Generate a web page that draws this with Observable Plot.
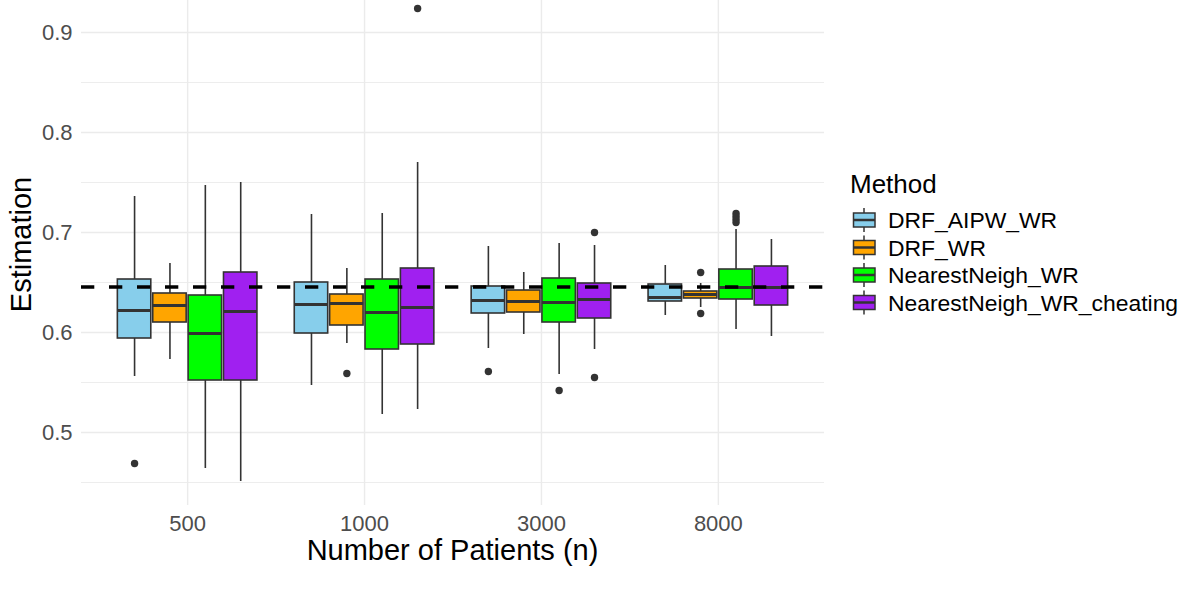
<!DOCTYPE html>
<html><head><meta charset="utf-8">
<script src="https://cdn.jsdelivr.net/npm/d3@7"></script>
<script src="https://cdn.jsdelivr.net/npm/@observablehq/plot@0.6"></script>
<style>
body{margin:0;background:#fff;}
#wrap{position:relative;width:1196px;height:609px;font-family:"Liberation Sans",Arial,Helvetica,sans-serif;}
#overlay{position:absolute;left:0;top:0;pointer-events:none;}
</style></head><body>
<div id="wrap"><div id="chart"></div><svg id="overlay" width="1196" height="609"></svg></div>
<script>
const groups = ["500", "1000", "3000", "8000"];
const methods = ["DRF_AIPW_WR", "DRF_WR", "NearestNeigh_WR", "NearestNeigh_WR_cheating"];
const colors = ["#87CEEB", "#FFA500", "#00FF00", "#A020F0"];

// rows = groups (n), columns = methods
const whiskerLow = [
  [0.556, 0.573, 0.464, 0.451],
  [0.547, 0.589, 0.518, 0.523],
  [0.584, 0.598, 0.558, 0.583],
  [0.617, 0.625, 0.603, 0.596]
];
const lowerQuartile = [
  [0.594, 0.610, 0.552, 0.552],
  [0.599, 0.607, 0.583, 0.588],
  [0.619, 0.620, 0.610, 0.614],
  [0.631, 0.634, 0.633, 0.627]
];
const medianValue = [
  [0.622, 0.627, 0.599, 0.621],
  [0.628, 0.629, 0.620, 0.625],
  [0.632, 0.631, 0.630, 0.633],
  [0.635, 0.638, 0.645, 0.645]
];
const upperQuartile = [
  [0.653, 0.639, 0.637, 0.660],
  [0.650, 0.638, 0.653, 0.664],
  [0.646, 0.642, 0.654, 0.649],
  [0.648, 0.641, 0.663, 0.666]
];
const whiskerHigh = [
  [0.736, 0.669, 0.747, 0.750],
  [0.718, 0.664, 0.719, 0.770],
  [0.686, 0.660, 0.689, 0.687],
  [0.667, 0.649, 0.703, 0.693]
];

const outlierGroup = ["500", "1000", "1000", "3000", "3000", "3000", "3000", "8000", "8000", "8000", "8000", "8000", "8000"];
const outlierMethod = ["DRF_AIPW_WR", "DRF_WR", "NearestNeigh_WR_cheating", "DRF_AIPW_WR", "NearestNeigh_WR",
  "NearestNeigh_WR_cheating", "NearestNeigh_WR_cheating", "DRF_WR", "DRF_WR",
  "NearestNeigh_WR", "NearestNeigh_WR", "NearestNeigh_WR", "NearestNeigh_WR"];
const outlierValue = [0.469, 0.559, 0.924, 0.561, 0.542, 0.700, 0.555, 0.660, 0.619, 0.719, 0.716, 0.713, 0.710];

const referenceValue = 0.6455;
const majorTicks = [0.5, 0.6, 0.7, 0.8, 0.9];
const minorTicks = [0.45, 0.55, 0.65, 0.75, 0.85];

// discrete positions as ggplot does: groups at 1..n, methods dodged within each group
const dodgeStep = 0.2, boxHalf = 0.0945;
const groupPos = g => groups.indexOf(g) + 1;
const dodgePos = (g, m) => groupPos(g) + (methods.indexOf(m) - (methods.length - 1) / 2) * dodgeStep;

const stats = groups.flatMap((g, i) => methods.map((m, j) => ({
  n: g, method: m, pos: dodgePos(g, m),
  lo: whiskerLow[i][j], q1: lowerQuartile[i][j], med: medianValue[i][j],
  q3: upperQuartile[i][j], hi: whiskerHigh[i][j]
})));
const outliers = outlierValue.map((v, k) => ({n: outlierGroup[k], method: outlierMethod[k], pos: dodgePos(outlierGroup[k], outlierMethod[k]), value: v}));
const groupTicks = groups.map(groupPos);

const font = "'Liberation Sans', Arial, Helvetica, sans-serif";
const grid = "#ebebeb";
const dark = "#333333";

const plot = Plot.plot({
  width: 1196, height: 609,
  marginLeft: 81, marginRight: 372, marginTop: 0, marginBottom: 104,
  style: {fontFamily: font, color: "#4d4d4d", background: "white"},
  x: {type: "linear", domain: [0.4, groups.length + 0.6]},
  y: {domain: [0.427, 0.932]},
  color: {domain: methods, range: colors},
  marks: [
    Plot.ruleY(minorTicks, {stroke: grid, strokeWidth: 0.9}),
    Plot.ruleY(majorTicks, {stroke: grid, strokeWidth: 1.4}),
    Plot.ruleX(groupTicks, {stroke: grid, strokeWidth: 1.4}),
    Plot.axisY(majorTicks, {tickSize: 0, tickPadding: 9, fontSize: 22, tickFormat: d3.format(".1f"), label: null}),
    Plot.axisX(groupTicks, {tickSize: 0, tickPadding: 9.5, fontSize: 22, tickFormat: d => groups[d - 1], label: null}),
    Plot.ruleX(stats, {x: "pos", y1: "lo", y2: "hi", stroke: dark, strokeWidth: 1.6}),
    Plot.rectY(stats, {x1: d => d.pos - boxHalf, x2: d => d.pos + boxHalf, y1: "q1", y2: "q3", fill: "method", stroke: dark, strokeWidth: 1.6}),
    Plot.ruleY(stats, {x1: d => d.pos - boxHalf, x2: d => d.pos + boxHalf, y: "med", stroke: dark, strokeWidth: 3}),
    Plot.dot(outliers, {x: "pos", y: "value", r: 3.7, fill: dark, stroke: null}),
    Plot.ruleY([referenceValue], {stroke: "black", strokeWidth: 3.6, strokeDasharray: "13.3,14.7"})
  ]
});
document.getElementById("chart").appendChild(plot);

// titles and legend
const ov = d3.select("#overlay").style("font-family", font);
ov.append("text").attr("x", 452.5).attr("y", 560).attr("text-anchor", "middle")
  .attr("font-size", 29).attr("fill", "black").text("Number of Patients (n)");
ov.append("text").attr("transform", "translate(31,244.5) rotate(-90)").attr("text-anchor", "middle")
  .attr("font-size", 29).attr("fill", "black").text("Estimation");
ov.append("text").attr("x", 850).attr("y", 193).attr("font-size", 26).attr("fill", "black").text("Method");
methods.forEach((m, i) => {
  const cy = 220 + i * 27.5;
  const g = ov.append("g");
  g.append("line").attr("x1", 864).attr("x2", 864).attr("y1", cy - 12).attr("y2", cy + 12)
    .attr("stroke", dark).attr("stroke-width", 1.5);
  g.append("rect").attr("x", 853.5).attr("y", cy - 7).attr("width", 21.5).attr("height", 14)
    .attr("fill", colors[i]).attr("stroke", dark).attr("stroke-width", 1.5);
  g.append("line").attr("x1", 853.5).attr("x2", 875).attr("y1", cy).attr("y2", cy)
    .attr("stroke", dark).attr("stroke-width", 2.5);
  g.append("text").attr("x", 888).attr("y", cy + 8).attr("font-size", 22.9).attr("fill", "black").text(m);
});
</script>
</body></html>
